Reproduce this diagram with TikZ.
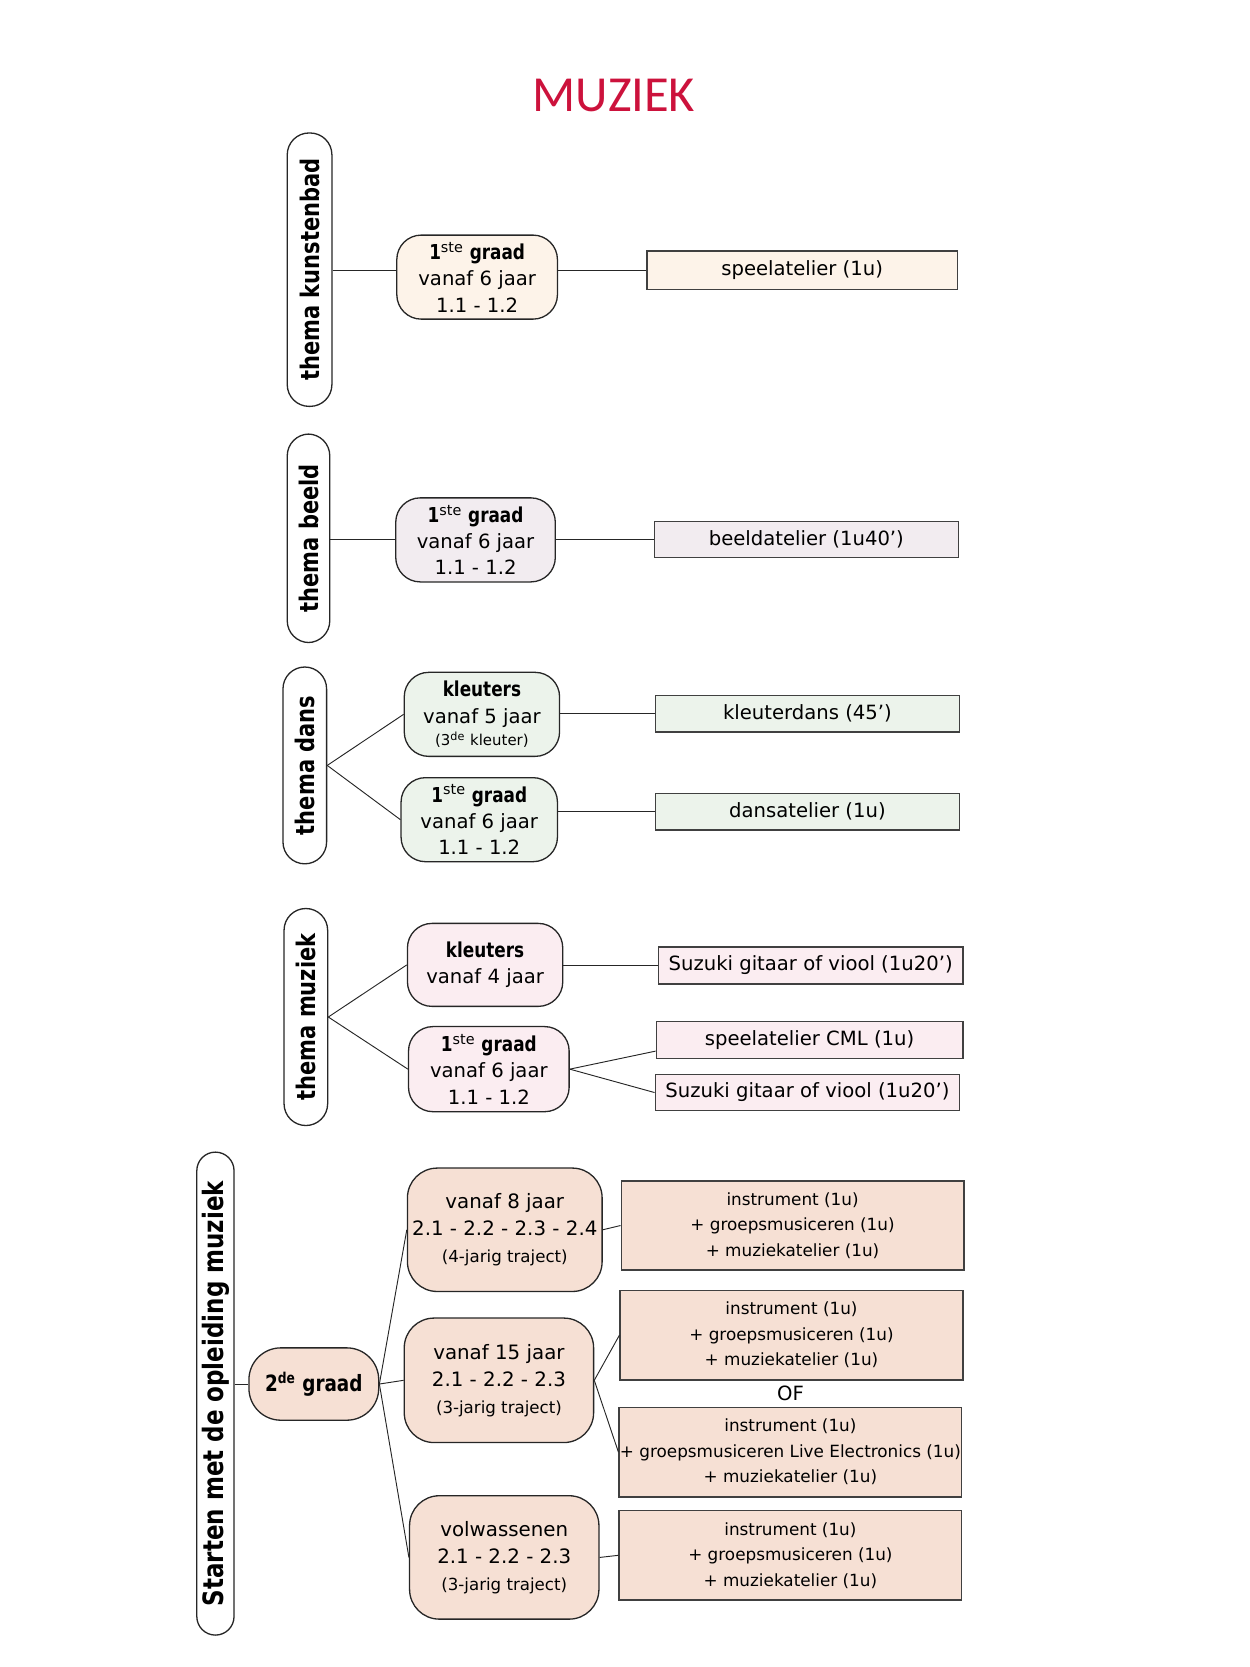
\documentclass[tikz,border=0pt]{standalone}
\usepackage{fontspec}
\setmainfont{DejaVu Sans}[BoldFeatures={FakeStretch=0.82}]
\newfontfamily\titelfont{Carlito}
\usetikzlibrary{positioning}
\definecolor{titelrood}{RGB}{204,18,60}
\definecolor{kbkleur}{RGB}{253,243,233}
\definecolor{beeldkleur}{RGB}{242,236,240}
\definecolor{danskleur}{RGB}{236,243,235}
\definecolor{muziekkleur}{RGB}{251,237,241}
\definecolor{oplkleur}{RGB}{246,224,212}
\newcommand{\vet}[1]{{\fontsize{11}{14}\selectfont\bfseries #1}}

\begin{document}
\begin{tikzpicture}[x=0.02cm, y=-0.02cm,
  wh/.style 2 args={minimum width=#1*0.02cm, minimum height=#2*0.02cm},
  thema/.style={draw=black!85, fill=white, rotate=90, inner sep=0pt, line width=0.7pt,
    rounded corners=0.41cm, font=\bfseries\fontsize{13.7}{16}\selectfont},
  graad/.style={draw=black!85, rounded corners=0.46cm, inner sep=0pt, align=center,
    line width=0.7pt, font=\fontsize{10.5}{14}\selectfont},
  vak/.style={draw=black!75, inner sep=0pt, align=center, line width=0.8pt,
    font=\fontsize{10.5}{14}\selectfont},
  lijn/.style={draw=black!85, line width=0.5pt}
]
\useasboundingbox (0,0) rectangle (1175,1567);

\node[text=titelrood, font=\titelfont\fontsize{27}{30}\selectfont] (titel) at (577,90) {MUZIEK};

\node[thema, wh={257}{42}] (kb) at (291,253.5) {thema kunstenbad};
\node[graad, wh={151}{79}, fill=kbkleur] (kbgraad) at (448.5,260.5)
  {\vet{1\textsuperscript{\normalfont ste} graad}\\vanaf 6 jaar\\1.1 - 1.2};
\node[vak, wh={292}{36}, fill=kbkleur] (kbvak) at (754,254) {speelatelier (1u)};
\draw[lijn] (kb.south |- kbvak.west) -- (kbgraad.west |- kbvak.west);
\draw[lijn] (kbgraad.east |- kbvak.west) -- (kbvak.west);

\node[thema, wh={196}{40}] (beeld) at (290,506) {thema beeld};
\node[graad, wh={150}{79}, fill=beeldkleur] (beeldgraad) at (447,507.5)
  {\vet{1\textsuperscript{\normalfont ste} graad}\\vanaf 6 jaar\\1.1 - 1.2};
\node[vak, wh={286}{34}, fill=beeldkleur] (beeldvak) at (758,507) {beeldatelier (1u40’)};
\draw[lijn] (beeld.south |- beeldgraad.west) -- (beeldgraad.west);
\draw[lijn] (beeldgraad.east |- beeldvak.west) -- (beeldvak.west);

\node[thema, wh={185}{41}] (dans) at (286.5,719.5) {thema dans};
\node[graad, wh={146}{79}, fill=danskleur] (danskl) at (453,671.5)
  {\vet{kleuters}\\vanaf 5 jaar\\[-2pt]{\fontsize{8}{10}\selectfont(3\textsuperscript{de} kleuter)}};
\node[graad, wh={147}{79}, fill=danskleur] (dansgraad) at (450.5,770.5)
  {\vet{1\textsuperscript{\normalfont ste} graad}\\vanaf 6 jaar\\1.1 - 1.2};
\node[vak, wh={286}{34}, fill=danskleur] (dansvak1) at (759,671) {kleuterdans (45’)};
\node[vak, wh={286}{34}, fill=danskleur] (dansvak2) at (759,763) {dansatelier (1u)};
\draw[lijn] (dans.south) -- (danskl.west);
\draw[lijn] (dans.south) -- (dansgraad.west);
\draw[lijn] (danskl.east |- dansvak1.west) -- (dansvak1.west);
\draw[lijn] (dansgraad.east |- dansvak2.west) -- (dansvak2.west);

\node[thema, wh={204}{41}] (muz) at (287.5,956) {thema muziek};
\node[graad, wh={146}{78}, fill=muziekkleur] (muzkl) at (456,907)
  {\vet{kleuters}\\vanaf 4 jaar};
\node[graad, wh={151}{80}, fill=muziekkleur] (muzgraad) at (459.5,1005)
  {\vet{1\textsuperscript{\normalfont ste} graad}\\vanaf 6 jaar\\1.1 - 1.2};
\node[vak, wh={286}{35}, fill=muziekkleur] (muzvak1) at (762,907.5) {Suzuki gitaar of viool (1u20’)};
\node[vak, wh={288}{35}, fill=muziekkleur] (muzvak2) at (761,977.5) {speelatelier CML (1u)};
\node[vak, wh={286}{34}, fill=muziekkleur] (muzvak3) at (759,1027) {Suzuki gitaar of viool (1u20’)};
\draw[lijn] (muz.south) -- (muzkl.west);
\draw[lijn] (muz.south) -- (muzgraad.west);
\draw[lijn] (muzkl.east |- muzvak1.west) -- (muzvak1.west);
\draw[lijn] (muzgraad.east) -- ([yshift=-6pt]muzvak2.west);
\draw[lijn] (muzgraad.east) -- (muzvak3.west);

\node[thema, wh={454}{35}, rounded corners=0.35cm, font=\bfseries\fontsize{15}{18}\selectfont] (opl) at (202.5,1310) {Starten met de opleiding muziek};
\node[graad, wh={122}{68}, fill=oplkleur, rounded corners=0.6cm] (tweede) at (295,1301)
  {{\fontsize{12}{14}\selectfont\bfseries 2\textsuperscript{de} graad}};
\node[graad, wh={183}{116}, fill=oplkleur, rounded corners=0.56cm, font=\fontsize{10.6}{14.5}\selectfont] (opl8) at (474.5,1156)
  {vanaf 8 jaar\\2.1 - 2.2 - 2.3 - 2.4\\{\fontsize{8.9}{11}\selectfont(4-jarig traject)}};
\node[graad, wh={178}{117}, fill=oplkleur, rounded corners=0.56cm, font=\fontsize{10.6}{14.5}\selectfont] (opl15) at (469,1297.5)
  {vanaf 15 jaar\\2.1 - 2.2 - 2.3\\{\fontsize{8.9}{11}\selectfont(3-jarig traject)}};
\node[graad, wh={178}{116}, fill=oplkleur, rounded corners=0.56cm, font=\fontsize{10.6}{14.5}\selectfont] (oplvw) at (474,1464)
  {volwassenen\\2.1 - 2.2 - 2.3\\{\fontsize{8.9}{11}\selectfont(3-jarig traject)}};
\node[vak, wh={322}{84}, fill=oplkleur, font=\fontsize{9}{13.6}\selectfont] (oplvak1) at (745,1152)
  {instrument (1u)\\+ groepsmusiceren (1u)\\+ muziekatelier (1u)};
\node[vak, wh={322}{84}, fill=oplkleur, font=\fontsize{9}{13.6}\selectfont] (oplvak2) at (744,1255)
  {instrument (1u)\\+ groepsmusiceren (1u)\\+ muziekatelier (1u)};
\node[font=\fontsize{10.5}{12}\selectfont] (of) at (743,1310) {OF};
\node[vak, wh={322}{84}, fill=oplkleur, font=\fontsize{9}{13.6}\selectfont] (oplvak3) at (743,1365)
  {instrument (1u)\\+ groepsmusiceren Live Electronics (1u)\\+ muziekatelier (1u)};
\node[vak, wh={322}{84}, fill=oplkleur, font=\fontsize{9}{13.6}\selectfont] (oplvak4) at (743,1462)
  {instrument (1u)\\+ groepsmusiceren (1u)\\+ muziekatelier (1u)};
\draw[lijn] (opl.south |- tweede.west) -- (tweede.west);
\draw[lijn] (tweede.east) -- (opl8.west);
\draw[lijn] (tweede.east) -- (opl15.west);
\draw[lijn] (tweede.east) -- (oplvw.west);
\draw[lijn] (opl8.east) -- (oplvak1.west);
\draw[lijn] (opl15.east) -- (oplvak2.west);
\draw[lijn] (opl15.east) -- (oplvak3.west);
\draw[lijn] (oplvw.east) -- (oplvak4.west);
\end{tikzpicture}
\end{document}
